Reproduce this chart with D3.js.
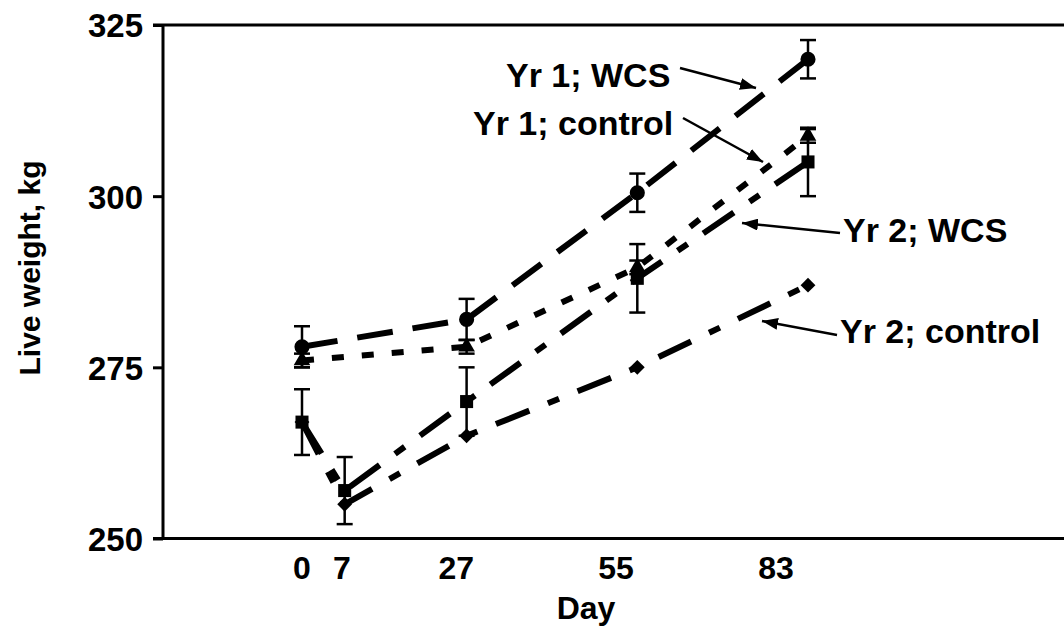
<!DOCTYPE html>
<html>
  <head>
    <meta charset="utf-8">
    <script src="https://d3js.org/d3.v7.min.js"></script>
    <style type="text/css">
body {
  margin: 0;
  background: #fff;
}
text {
  font-family: "Liberation Sans", Arial, Helvetica, sans-serif;
  font-weight: bold;
  fill: #000;
}
    </style>
  </head>
  <body>
    <svg id="chart" width="1064" height="637"></svg>
    <script type="text/javascript">
// days sampled
var days = [0, 7, 27, 55, 83];
var dayLabels = ["0", "7", "27", "55", "83"];
var yTicks = [250, 275, 300, 325];

// live weight means, kg
var yr1Wcs = [278, 282, 300.5, 320];
var yr1WcsErr = [3, 3, 2.8, 2.8];
var yr1Control = [276, 278, 289.6, 308.8];
var yr1ControlErr = [1, 1, 1, 1];
var yr2Wcs = [267, 257, 270, 288, 305];
var yr2WcsErr = [4.8, 4.9, 5, 5, 5];
var yr2Control = [267, 255, 265, 275, 287];

var yr1Days = [0, 27, 55, 83];

var series = [
  {name: "Yr 2; control", days: days, y: yr2Control, err: null,
   symbol: d3.symbolSquare, size: 110, rotate: 45, dash: "36,20,12,20"},
  {name: "Yr 2; WCS", days: days, y: yr2Wcs, err: yr2WcsErr,
   symbol: d3.symbolSquare, size: 170, rotate: 0, dash: "37,19,12,19"},
  {name: "Yr 1; control", days: yr1Days, y: yr1Control, err: yr1ControlErr,
   symbol: d3.symbolTriangle, size: 120, rotate: 0, dash: "12,18"},
  {name: "Yr 1; WCS", days: yr1Days, y: yr1Wcs, err: yr1WcsErr,
   symbol: d3.symbolCircle, size: 180, rotate: 0, dash: "36,20"}
];

// label text, text anchor point, arrow start, arrow tip
var notes = [
  {text: "Yr 1; WCS", tx: 506, ty: 87, x1: 680, y1: 68, x2: 756, y2: 88},
  {text: "Yr 1; control", tx: 473, ty: 135, x1: 683, y1: 118, x2: 763, y2: 162},
  {text: "Yr 2; WCS", tx: 843, ty: 242, x1: 840, y1: 233, x2: 742, y2: 223},
  {text: "Yr 2; control", tx: 840, ty: 343, x1: 837, y1: 335, x2: 762, y2: 321}
];

var svg = d3.select("#chart");

var plotLeft = 163, plotTop = 25, plotBottom = 538.5, plotRight = 1064;

var x = d3.scaleLinear().domain([0, 83]).range([302, 808]);
// tick labels sit a little left of the data columns in the original
var xLabel = d3.scaleLinear().domain([0, 83]).range([302, 776]);
var y = d3.scaleLinear().domain([250, 325]).range([plotBottom, plotTop]);

svg.append("defs").append("marker")
    .attr("id", "head")
    .attr("viewBox", "0 0 16 12")
    .attr("refX", 16)
    .attr("refY", 6)
    .attr("markerWidth", 16)
    .attr("markerHeight", 12)
    .attr("markerUnits", "userSpaceOnUse")
    .attr("orient", "auto")
  .append("path")
    .attr("d", "M0,0L16,6L0,12Z")
    .attr("fill", "#000");

// frame: left axis plus top and bottom rules running off to the right
var yAxis = d3.axisLeft(y).tickValues(yTicks).tickSize(10).tickPadding(10);
var ga = svg.append("g")
    .attr("transform", "translate(" + plotLeft + ",0)")
    .call(yAxis);
ga.select(".domain").attr("d", "M0," + plotTop + "V" + plotBottom)
    .attr("stroke", "#000").attr("stroke-width", 3);
ga.selectAll(".tick line").attr("stroke", "#000").attr("stroke-width", 3);
ga.selectAll(".tick text")
    .attr("font-size", 33)
    .attr("font-family", "Liberation Sans, Arial, sans-serif")
    .attr("dy", "0.36em");

[plotTop, plotBottom].forEach(function(v) {
  svg.append("line")
      .attr("x1", plotLeft - 10).attr("x2", plotRight)
      .attr("y1", v).attr("y2", v)
      .attr("stroke", "#000")
      .attr("stroke-width", 3);
});

svg.append("g").selectAll("text")
    .data(days)
  .enter().append("text")
    .attr("x", function(d) { return xLabel(d); })
    .attr("y", plotBottom + 40)
    .attr("text-anchor", "middle")
    .attr("font-size", 32)
    .text(function(d, i) { return dayLabels[i]; });

svg.append("text")
    .attr("x", 586)
    .attr("y", 619)
    .attr("text-anchor", "middle")
    .attr("font-size", 32)
    .text("Day");

svg.append("text")
    .attr("transform", "translate(40,268) rotate(-90)")
    .attr("text-anchor", "middle")
    .attr("font-size", 30)
    .text("Live weight, kg");

var line = d3.line()
    .x(function(d) { return x(d[0]); })
    .y(function(d) { return y(d[1]); });

series.forEach(function(s) {
  var pts = s.days.map(function(d, i) { return [d, s.y[i], s.err ? s.err[i] : 0]; });

  svg.append("path")
      .datum(pts)
      .attr("d", line)
      .attr("fill", "none")
      .attr("stroke", "#000")
      .attr("stroke-width", 6)
      .attr("stroke-dasharray", s.dash);

  if (s.err) {
    var eb = svg.append("g").selectAll("g")
        .data(pts)
      .enter().append("g")
        .attr("stroke", "#000")
        .attr("stroke-width", 2.5);
    eb.append("line")
        .attr("x1", function(d) { return x(d[0]); })
        .attr("x2", function(d) { return x(d[0]); })
        .attr("y1", function(d) { return y(d[1] - d[2]); })
        .attr("y2", function(d) { return y(d[1] + d[2]); });
    [-1, 1].forEach(function(k) {
      eb.append("line")
          .attr("x1", function(d) { return x(d[0]) - 8; })
          .attr("x2", function(d) { return x(d[0]) + 8; })
          .attr("y1", function(d) { return y(d[1] + k * d[2]); })
          .attr("y2", function(d) { return y(d[1] + k * d[2]); });
    });
  }

  svg.append("g").selectAll("path")
      .data(pts)
    .enter().append("path")
      .attr("d", d3.symbol().type(s.symbol).size(s.size))
      .attr("transform", function(d) {
        return "translate(" + x(d[0]) + "," + y(d[1]) + ") rotate(" + s.rotate + ")";
      })
      .attr("fill", "#000");
});

notes.forEach(function(n) {
  svg.append("text")
      .attr("x", n.tx)
      .attr("y", n.ty)
      .attr("font-size", 34)
      .text(n.text);
  svg.append("line")
      .attr("x1", n.x1).attr("y1", n.y1)
      .attr("x2", n.x2).attr("y2", n.y2)
      .attr("stroke", "#000")
      .attr("stroke-width", 2.5)
      .attr("marker-end", "url(#head)");
});
    </script>
  </body>
</html>
